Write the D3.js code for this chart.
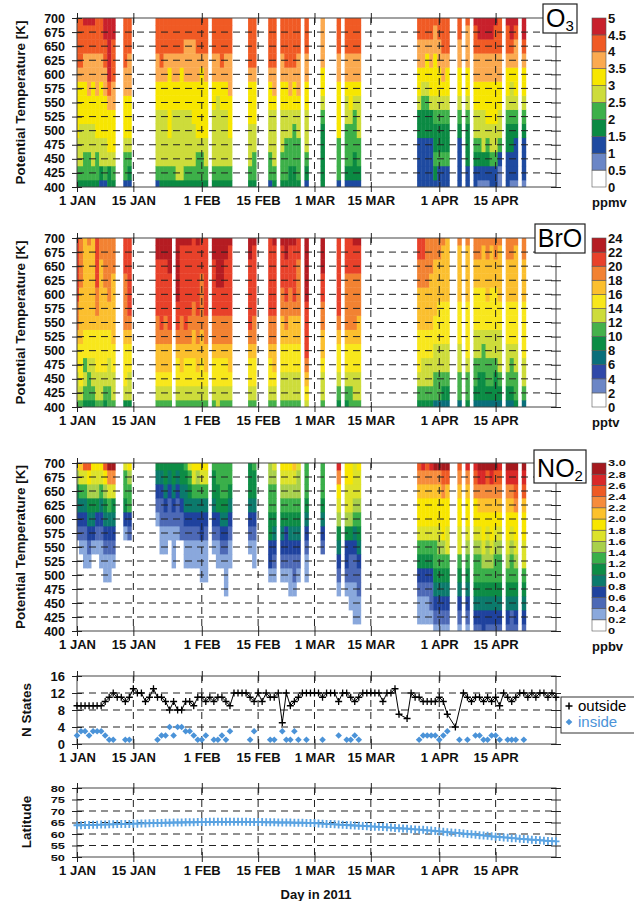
<!DOCTYPE html>
<html>
<head>
<meta charset="utf-8">
<script src="https://cdn.jsdelivr.net/npm/d3@7"></script>
<style>
  body { margin: 0; background: #fff; }
  text { font-family: "Liberation Sans", Arial, Helvetica, sans-serif; }
</style>
</head>
<body>
<svg id="chart" width="634" height="901"></svg>
<script>
// ---- data ----
const levels = [400, 425, 450, 475, 500, 525, 550, 575, 600, 625, 650, 675, 700];
const tickDays = [0, 14, 31, 45, 59, 73, 90, 104];
const tickLabels = ['1 JAN', '15 JAN', '1 FEB', '15 FEB', '1 MAR', '15 MAR', '1 APR', '15 APR'];

// days (from 1 Jan 2011) that have profiles
const profileDays = [0,1,2,3,4,5,6,7,8,9, 12,13, 20,21,22,23,24,25,26,27,28,29,30,31,32,
  34,35,36,37,38, 43,44, 48,49, 51,52,53,54,55, 57, 61, 65, 67,68,69,70,
  85,86,87,88,89,90,91,92, 95, 97, 99,100,101,102,103,104,105, 107,108,109, 111];
const broDays = profileDays.filter(d => d !== 24);

// each string: colour class per level, 400 K -> 700 K (hex digit = class index)
const o3Profiles = [
  '3455666678888','3455566678888','3445566677889','3445566777889','3455566677889',
  '3445666777888','2355666677888','2455666778899','3356667899999','3456667788899',
  '2445666778888','2345666777888',
  '2455556677888','3455556678888','3455556677888','3455666667888','3455556677888',
  '3555556677888','3555556667888','3455556677788','3455556677788','3455566677788',
  '3445666677888','3445666667888','3455666677888',
  '3455556677888','3455555677888','3455556678888','3455556677888','3455666777888',
  '3455566678888','3445566678888',
  '2445556678888','3455556778888',
  '3445556677888','3444556678888','3344556778888','3344456678888','3444556777888',
  '2345556677888','3333345667777','2444666677888',
  '2344455677888','2344456677888','2334445677888','2344555677888',
  '2222335667788','2222334567788','2222334566788','2222335667788',
  '2343345666778','2243345667788','2243345677888','2243345667888',
  '2222345667788','2233345667778',
  '2234556677889','1234556677899','1235556677899','1234566677899',
  '2245566677899','2245566677889','1124556677888',
  '2223345667889','1223345567899','1222345667789','1222345667899'
];
const broProfiles = [
  '56677899aaaaa','5677788889999','4565778888888','4556778888889','4566778888888',
  '566777899aaaa','5667778888899','4567778889999','5566778899999','5667788888999',
  '4677789999aaa','4667789aaaaaa',
  '5678899aaaabb','567889aaaaabb','5678899aaaabb','567889aaaabbb',
  '567789aabbbbb','5678899aaaaab','567789aaaaaab','5677899aaaaab','56778899aaaaa',
  '5678899aaaaab','5677889999aaa','5678899aaaaaa',
  '5677899aaaabb','6677899aabbbb','5677899aabbbb','5677899aaaabb','5678899aaaaab',
  '567789aaaaabb','5677899aaaaab',
  '5677899aaaaaa','5678899aaaaab',
  '566778899aaab','56677899aaabb','566778899aaab','56677889aaaab','56677889999aa',
  '6789aaaabbbbb','56678899aabbb','4567789aaaaaa',
  '4567789999aaa','5567789999aaa','5667789999aab','5667788999aab',
  '45677788899aa','45667788899aa','4566778889999','4566778888999',
  '3556677888899','3556677788899','3456677788889','3456677788888',
  '3556677788889','4556777788889',
  '3455667778899','3445667778899','3445567778889','3455667788899',
  '3455667778889','3445667778899','3456667788889',
  '3456677788899','3455677788899','4556677788889','3566777788899'
];
const no2Profiles = [
  '0000000234579','000000123468a','000001123468c','000001234579c','0000001345789',
  '0000001235789','0000011234689','000011234579c','00001123468be','00000123458be',
  '0000000135668','0000000236679',
  '0000000012345','0000001122345','0000001123455','0000000122345','0000011123455',
  '0000000122345','0000000223455','0000011234456','0000011234568','0000011234689',
  '0000011234679','0000111334689','0000111234689',
  '0000001234556','0000011235566','0000012345666','0001112345666','0000011234566',
  '0000001234555','0000011234556',
  '0000133556677','0000123456678',
  '0000123456789','0000123356789','0001123456789','000122345678a','0000123456778',
  '0000112345666','0000002345666','00012345789bd',
  '0001233578899','0011223578899','0111223467888','0112234567889',
  '0112356899abc','0112356899abd','0112356899abc','0122356899abd',
  '1234566899abe','1234567899abe','1234567999bce','1234568899ace',
  '1234568899abc','1234567899abd',
  '2345667899bcd','234566789abde','334567899abde','234567789abce',
  '234567899abde','234566789abce','234566789abcd',
  '234567899abde','224566789abde','234567899bcde','234568899acde'
];

const o3Breaks = [0, 0.5, 1, 1.5, 2, 2.5, 3, 3.5, 4, 4.5, 5];
const o3Labels = ['0', '0.5', '1', '1.5', '2', '2.5', '3', '3.5', '4', '4.5', '5'];
const o3Colors = ['#ffffff', '#6b86c6', '#1e4aa0', '#0b8a43', '#3db049', '#cddc3b',
  '#f7e600', '#fbaa50', '#f05a24', '#c8202b'];

const broBreaks = [0, 2, 4, 6, 8, 10, 12, 14, 16, 18, 20, 22, 24];
const broLabels = ['0', '2', '4', '6', '8', '10', '12', '14', '16', '18', '20', '22', '24'];
const broColors = ['#ffffff', '#6c86c6', '#2f48a8', '#0a6f7a', '#0b8c45', '#45b14b',
  '#cddc3b', '#f8e71c', '#fbbf2e', '#f28232', '#e8412a', '#b51c22'];

const no2Breaks = [0, 0.2, 0.4, 0.6, 0.8, 1, 1.2, 1.4, 1.6, 1.8, 2, 2.2, 2.4, 2.6, 2.8, 3];
const no2Labels = ['0', '0.2', '0.4', '0.6', '0.8', '1.0', '1.2', '1.4', '1.6', '1.8',
  '2.0', '2.2', '2.4', '2.6', '2.8', '3.0'];
const no2Colors = ['#ffffff', '#8aa8dc', '#4d69b6', '#1f429e', '#0b7a6c', '#0d8c45',
  '#3aaf4a', '#a8d04b', '#dce22a', '#f8e600', '#fcc12c', '#f68c3c', '#ee5a24',
  '#d92828', '#a5191e'];

// N states, one value per day (null = no marker)
const outsideStates = [9,9,9,9,9,9,9,10,11,12, 11,11,10,11,13,12,12,10,11,13,
  11,11,10,8,10,8,8,10,10,9, 11,11,10,11,10,11,11,10,9,12,
  12,12,12,11,10,12,10,12,11,11, 12,5,12,9,10,11,12,12,12,12,
  12,11,12,12,12,10,12,12,11,10, 11,12,12,12,12,12,10,12,12,13,
  7,null,6,12,11,11,10,10,10,10, 11,10,7,null,4,null,12,11,10,11,
  11,10,11,10,11,9,12,11,10,11, 12,12,11,12,11,12,12,11,12,11];
const insideDays = profileDays;
const insideStates = [2,3,3,2,3,3,3,2,1,1, 1,1, 1,2,2,4,2,4,4,3,3,2,1,1,2,
  1,1,2,1,3, 1,3, 1,1, 3,1,1,3,1, 1, 1, 2, 1,1,2,1,
  1,2,2,2,2,1,2,3, 1, 1, 2,2,1,1,2,2,1, 1,1,1, 1];

const latitude = [63.8,63.8,63.9,63.9,64.0,64.0,64.1,64.1,64.2,64.2,
  64.3,64.3,64.4,64.4,64.5,64.5,64.6,64.6,64.7,64.7,
  64.8,64.8,64.9,64.9,65.0,65.0,65.0,65.1,65.1,65.1,
  65.2,65.2,65.2,65.3,65.3,65.3,65.3,65.3,65.3,65.3,
  65.3,65.3,65.3,65.2,65.2,65.2,65.2,65.1,65.1,65.1,
  65.0,65.0,65.0,65.0,64.9,64.9,64.9,64.8,64.8,64.8,
  64.6,64.5,64.4,64.3,64.2,64.1,64.0,63.9,63.8,63.7,
  63.6,63.5,63.4,63.3,63.2,63.1,63.0,62.9,62.8,62.6,
  62.5,62.4,62.3,62.1,62.0,61.9,61.8,61.6,61.5,61.3,
  61.1,61.0,60.8,60.7,60.5,60.4,60.2,60.0,59.9,59.7,
  59.5,59.4,59.2,59.0,58.8,58.7,58.5,58.4,58.2,58.1,
  57.9,57.8,57.7,57.5,57.4,57.3,57.1,57.0,56.9,56.8];

// ---- layout ----
const svg = d3.select('#chart');
const X0 = 77, X1 = 556;
const day = d => new Date(Date.UTC(2011, 0, 1) + d * 864e5);
const x = d3.scaleUtc().domain([day(0), day(119)]).range([X0, X1]);
const FONT = '"Liberation Sans", Arial, Helvetica, sans-serif';

// squeeze text vertically: small font, glyphs stretched to a wider length
function widen(sel, size, factor) {
  sel.attr('font-size', size).each(function () {
    const w = this.getComputedTextLength();
    if (w > 0) d3.select(this).attr('textLength', w * factor).attr('lengthAdjust', 'spacingAndGlyphs');
  });
}

// frame: grid, border, crossing ticks on all four sides
function frame(top, bottom, y, yTicks, gridVals, fontSize, stretch) {
  const g = svg.append('g');
  g.selectAll('line.hg').data(gridVals).join('line')
    .attr('x1', X0).attr('x2', X1)
    .attr('y1', v => y(v)).attr('y2', v => y(v))
    .attr('stroke', '#222').attr('stroke-width', 1).attr('stroke-dasharray', '7,5');
  g.selectAll('line.vg').data(tickDays.slice(1)).join('line')
    .attr('x1', d => x(day(d))).attr('x2', d => x(day(d)))
    .attr('y1', top).attr('y2', bottom)
    .attr('stroke', '#222').attr('stroke-width', 1).attr('stroke-dasharray', '7,5');
  g.append('rect').attr('x', X0).attr('y', top).attr('width', X1 - X0).attr('height', bottom - top)
    .attr('fill', 'none').attr('stroke', '#444').attr('stroke-width', 1);

  const xTicks = tickDays.map(day);
  const styleAxis = sel => {
    sel.select('.domain').remove();
    sel.selectAll('.tick line').attr('stroke', '#222');
    sel.selectAll('text').attr('font-family', FONT).attr('font-weight', 'bold')
      .attr('font-size', fontSize).attr('fill', '#111');
  };
  const left = svg.append('g').attr('transform', `translate(${X0},0)`)
    .call(d3.axisLeft(y).tickValues(yTicks).tickSize(5).tickPadding(7))
    .call(styleAxis).call(s => s.selectAll('.tick line').attr('x1', 5));
  if (stretch) widen(left.selectAll('text'), fontSize, stretch);
  svg.append('g').attr('transform', `translate(${X1},0)`)
    .call(d3.axisRight(y).tickValues(yTicks).tickSize(5).tickFormat(''))
    .call(styleAxis).call(s => s.selectAll('.tick line').attr('x1', -5));
  svg.append('g').attr('transform', `translate(0,${bottom})`)
    .call(d3.axisBottom(x).tickValues(xTicks).tickSize(5).tickPadding(4)
      .tickFormat((d, i) => tickLabels[i]))
    .call(styleAxis).call(s => s.selectAll('.tick line').attr('y1', -5))
    .call(s => s.selectAll('text').attr('font-size', 13));
  svg.append('g').attr('transform', `translate(0,${top})`)
    .call(d3.axisTop(x).tickValues(xTicks).tickSize(5).tickFormat(''))
    .call(styleAxis).call(s => s.selectAll('.tick line').attr('y1', 5));
}

function yTitle(label, cx, cy) {
  svg.append('text').attr('transform', `translate(${cx},${cy}) rotate(-90)`)
    .attr('text-anchor', 'middle').attr('font-weight', 'bold').attr('font-size', 13.5)
    .attr('fill', '#111').text(label);
}

function heatPanel(cfg) {
  const { top, bottom, days, profiles, breaks, labels, colors, unit, name, sub, box, labelSize, stretch } = cfg;
  const y = d3.scaleLinear().domain([400, 700]).range([bottom, top]);
  const color = d3.scaleThreshold().domain(breaks.slice(1, -1)).range(colors);
  const cells = [];
  days.forEach((d, i) => profiles[i].split('').forEach((c, j) => {
    const k = parseInt(c, 16);
    cells.push({ day: d, level: levels[j], value: (breaks[k] + breaks[k + 1]) / 2 });
  }));

  const clipId = 'clip' + top;
  svg.append('clipPath').attr('id', clipId).append('rect')
    .attr('x', X0).attr('y', top).attr('width', X1 - X0).attr('height', bottom - top);
  svg.append('g').attr('clip-path', `url(#${clipId})`)
    .selectAll('rect').data(cells.filter(c => c.value > breaks[1])).join('rect')
    .attr('x', c => x(day(c.day - 0.5)))
    .attr('width', c => x(day(c.day + 0.5)) - x(day(c.day - 0.5)) + 0.4)
    .attr('y', c => y(c.level + 12.5))
    .attr('height', c => y(c.level - 12.5) - y(c.level + 12.5) + 0.4)
    .attr('fill', c => color(c.value));

  frame(top, bottom, y, levels, levels.slice(1, -1), 12.5, 0);
  yTitle('Potential Temperature [K]', 25, (top + bottom) / 2);

  // colour bar
  const cb = d3.scaleLinear().domain([breaks[0], breaks[breaks.length - 1]]).range([bottom, top]);
  const cg = svg.append('g');
  cg.selectAll('rect').data(colors).join('rect')
    .attr('x', 592).attr('width', 14)
    .attr('y', (c, i) => cb(breaks[i + 1]))
    .attr('height', (c, i) => cb(breaks[i]) - cb(breaks[i + 1]))
    .attr('fill', c => c).attr('stroke', '#555').attr('stroke-width', 0.6);
  const lab = cg.selectAll('text').data(breaks).join('text')
    .attr('x', 608).attr('y', b => cb(b)).attr('dy', '0.36em')
    .attr('font-weight', 'bold').attr('font-size', labelSize).attr('fill', '#111')
    .text((b, i) => labels[i]);
  if (stretch) widen(lab, labelSize, stretch);
  svg.append('text').attr('x', 592).attr('y', bottom + 20)
    .attr('font-weight', 'bold').attr('font-size', 13).attr('fill', '#111').text(unit);

  // species label box
  svg.append('rect').attr('x', box[0]).attr('y', box[1]).attr('width', box[2]).attr('height', box[3])
    .attr('fill', '#fff').attr('stroke', '#222').attr('stroke-width', 1.2);
  const t = svg.append('text').attr('x', box[0] + box[2] / 2).attr('y', box[1] + box[3] - 6)
    .attr('text-anchor', 'middle').attr('fill', '#000');
  t.append('tspan').attr('font-size', 25).text(name);
  if (sub) t.append('tspan').attr('font-size', 15).attr('dy', 4).text(sub);
}

heatPanel({ top: 18, bottom: 187, days: profileDays, profiles: o3Profiles,
  breaks: o3Breaks, labels: o3Labels, colors: o3Colors, unit: 'ppmv',
  name: 'O', sub: '3', box: [543, 4, 34, 29], labelSize: 13, stretch: 0 });
heatPanel({ top: 238, bottom: 407, days: broDays, profiles: broProfiles,
  breaks: broBreaks, labels: broLabels, colors: broColors, unit: 'pptv',
  name: 'BrO', sub: null, box: [535, 224, 50, 29], labelSize: 13, stretch: 0 });
heatPanel({ top: 463, bottom: 631, days: profileDays, profiles: no2Profiles,
  breaks: no2Breaks, labels: no2Labels, colors: no2Colors, unit: 'ppbv',
  name: 'NO', sub: '2', box: [534, 450, 52, 33], labelSize: 9.5, stretch: 1.35 });

// ---- N states ----
const yN = d3.scaleLinear().domain([0, 16]).range([744, 676]);
frame(676, 744, yN, [0, 4, 8, 12, 16], [4, 8, 12], 13, 0);
yTitle('N States', 31, 710);

const outside = outsideStates.map((v, i) => ({ d: i, v })).filter(p => p.v !== null);
svg.append('path').datum(outside)
  .attr('d', d3.line().x(p => x(day(p.d))).y(p => yN(p.v)))
  .attr('fill', 'none').attr('stroke', '#000').attr('stroke-width', 1);
const plus = 'M-3.5,0H3.5M0,-3.5V3.5';
svg.append('g').selectAll('path').data(outside).join('path')
  .attr('transform', p => `translate(${x(day(p.d))},${yN(p.v)})`)
  .attr('d', plus).attr('stroke', '#000').attr('stroke-width', 1.3);
svg.append('g').selectAll('path').data(insideDays.map((d, i) => ({ d, v: insideStates[i] })))
  .join('path')
  .attr('transform', p => `translate(${x(day(p.d))},${yN(p.v)}) rotate(45)`)
  .attr('d', d3.symbol(d3.symbolSquare, 22)()).attr('fill', '#4b93d8');

// legend
svg.append('rect').attr('x', 561).attr('y', 697).attr('width', 90).attr('height', 36)
  .attr('fill', '#fff').attr('stroke', '#333').attr('stroke-width', 1);
svg.append('path').attr('transform', 'translate(569,706)').attr('d', plus)
  .attr('stroke', '#000').attr('stroke-width', 1.5);
svg.append('text').attr('x', 578).attr('y', 711).attr('font-size', 15).attr('fill', '#000').text('outside');
svg.append('path').attr('transform', 'translate(569,722) rotate(45)')
  .attr('d', d3.symbol(d3.symbolSquare, 22)()).attr('fill', '#4b93d8');
svg.append('text').attr('x', 578).attr('y', 727).attr('font-size', 15).attr('fill', '#4b93d8').text('inside');

// ---- latitude ----
const yL = d3.scaleLinear().domain([50, 80]).range([857, 788]);
frame(788, 857, yL, [50, 55, 60, 65, 70, 75, 80], [55, 60, 65, 70, 75], 9.5, 1.35);
yTitle('Latitude', 31, 822);
const lat = latitude.map((v, i) => ({ d: i, v }));
svg.append('path').datum(lat)
  .attr('d', d3.line().x(p => x(day(p.d))).y(p => yL(p.v)))
  .attr('fill', 'none').attr('stroke', '#5aa3e2').attr('stroke-width', 1);
svg.append('g').selectAll('path').data(lat).join('path')
  .attr('transform', p => `translate(${x(day(p.d))},${yL(p.v)})`)
  .attr('d', 'M-3.5,0H3.5M0,-4V4').attr('stroke', '#5aa3e2').attr('stroke-width', 1.8);

svg.append('text').attr('x', 316).attr('y', 899).attr('text-anchor', 'middle')
  .attr('font-weight', 'bold').attr('font-size', 13).attr('fill', '#111').text('Day in 2011');
</script>
</body>
</html>
